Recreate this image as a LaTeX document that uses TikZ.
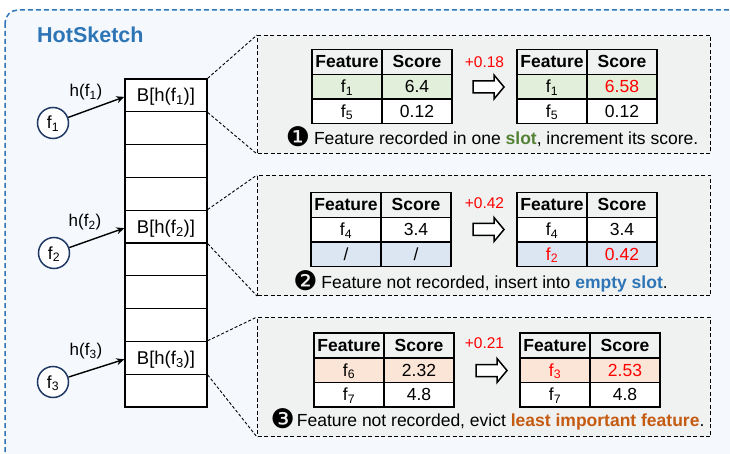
\documentclass[tikz,border=0pt]{standalone}
\usepackage{fontspec}
\setmainfont{Liberation Sans}
\newfontfamily\djv{DejaVu Sans}
\usetikzlibrary{calc,arrows.meta}
\definecolor{hsblue}{HTML}{2E75B6}
\definecolor{outerfill}{HTML}{F5F9FD}
\definecolor{panelfill}{HTML}{F0F1F1}
\definecolor{navy}{HTML}{1F3864}
\definecolor{rowgreen}{HTML}{E2EFDA}
\definecolor{rowblue}{HTML}{DCE6F2}
\definecolor{roworange}{HTML}{FBE5D6}
\definecolor{slotgreen}{HTML}{548235}
\definecolor{evictorange}{HTML}{C55A11}
\definecolor{incred}{HTML}{FF0000}
\newcommand\ftab[9]{%
  \begin{scope}[shift={(#2,#3)}]
    \fill[#4] (0,25) rectangle (140,49.5);
    \fill[#7] (0,49.5) rectangle (140,74);
    \draw[tabline] (0,0) rectangle (140,74);
    \draw[tabline] (0,25) -- (140,25) (0,49.5) -- (140,49.5) (70,0) -- (70,74);
    \node[cell] (#1h1) at (35,12.5) {\bfseries Feature};
    \node[cell] (#1h2) at (105,12.5) {\bfseries Score};
    \node[cell] (#1a) at (35,37.25) {#5};
    \node[cell] (#1b) at (105,37.25) {#6};
    \node[cell] (#1c) at (35,61.75) {#8};
    \node[cell] (#1d) at (105,61.75) {#9};
  \end{scope}}
\newcommand\hollowarrow[3]{%
  \draw[line width=1.5pt,fill=white,line join=miter] (#2,#3)
    ++(0,-6) -- ++(21,0) -- ++(0,-6) -- ++(10,12) -- ++(-10,12) -- ++(0,-6) -- ++(-21,0) -- cycle;
  \coordinate (#1) at (#2+15,#3);}
\newcommand\cnum[1]{{\djv\fontsize{27}{20}\selectfont\raisebox{-2.5pt}{#1}}}
\begin{document}
\begin{tikzpicture}[x=1pt,y=-1pt,
  bucket/.style={draw=black,line width=1.3pt,fill=white,minimum width=82pt,minimum height=32.8pt,inner sep=0pt,text height=13pt,text depth=0pt,font=\fontsize{18.5}{20}\selectfont},
  feat/.style={circle,draw=navy,line width=1.5pt,fill=white,minimum size=31pt,inner sep=0pt,text height=12pt,text depth=0pt,font=\fontsize{17.5}{20}\selectfont},
  hlab/.style={inner sep=0pt,text height=11.5pt,text depth=0pt,font=\fontsize{17}{18}\selectfont},
  harrow/.style={line width=1.4pt,-{Stealth[length=8pt,width=7pt]}},
  conn/.style={line width=0.9pt,dash pattern=on 3pt off 2pt},
  panel/.style={draw=black,fill=panelfill,line width=1pt,dash pattern=on 4pt off 2.5pt,inner sep=0pt,anchor=north west},
  tabline/.style={line width=1.7pt,draw=black},
  cell/.style={inner sep=0pt,text height=12pt,text depth=0pt,font=\fontsize{17.5}{20}\selectfont},
  inc/.style={inner sep=0pt,text=incred,font=\fontsize{15.5}{18}\selectfont},
  capline/.style={inner sep=0pt,text height=12.5pt,text depth=0pt,font=\fontsize{17.5}{20}\selectfont}
]
\clip (0,0) rectangle (730,454);
\useasboundingbox (0,0) rectangle (730,454);
\fill[white] (0,0) rectangle (730,454);
\draw[draw=hsblue,fill=outerfill,line width=1.5pt,dash pattern=on 5pt off 3pt,rounded corners=13pt] (5,10) rectangle (760,480);
\node[inner sep=0pt,anchor=west,text=hsblue,font=\fontsize{21.5}{24}\selectfont\bfseries] (title) at (37,34.5) {HotSketch};

% buckets
\node[bucket] (b0) at (166,95.4) {B[h(f\textsubscript{1})]};
\foreach \i in {1,2,3} {\node[bucket] (b\i) at (166,95.4+32.8*\i) {};}
\node[bucket] (b4) at (166,95.4+32.8*4) {B[h(f\textsubscript{2})]};
\foreach \i in {5,6,7} {\node[bucket] (b\i) at (166,95.4+32.8*\i) {};}
\node[bucket] (b8) at (166,95.4+32.8*8) {B[h(f\textsubscript{3})]};
\node[bucket] (b9) at (166,95.4+32.8*9) {};

% features
\node[feat] (c1) at (53,123) {f\textsubscript{1}};
\node[feat] (c2) at (54,253) {f\textsubscript{2}};
\node[feat] (c3) at (53,382) {f\textsubscript{3}};
\draw[harrow] (c1) -- ($(b0.west)+(0,1.5)$);
\draw[harrow] (c2) -- ($(b4.west)+(0,1.5)$);
\draw[harrow] (c3) -- ($(b8.west)+(0,1.5)$);
\node[hlab] (h1) at (86,91) {h(f\textsubscript{1})};
\node[hlab] (h2) at (85,221) {h(f\textsubscript{2})};
\node[hlab] (h3) at (86,350) {h(f\textsubscript{3})};

% panels
\node[panel,minimum width=453pt,minimum height=118pt] (p1) at (257,35) {};
\node[panel,minimum width=453pt,minimum height=120pt] (p2) at (257,175) {};
\node[panel,minimum width=453pt,minimum height=119pt] (p3) at (257,317) {};
\draw[conn] (b0.north east) -- (p1.north west);
\draw[conn] (b0.south east) -- (p1.south west);
\draw[conn] (b4.north east) -- (p2.north west);
\draw[conn] (b4.south east) -- (p2.south west);
\draw[conn] (b8.north east) -- (p3.north west);
\draw[conn] (b8.south east) -- (p3.south west);

% panel 1
\ftab{t1l}{312}{49.5}{rowgreen}{f\textsubscript{1}}{6.4}{white}{f\textsubscript{5}}{0.12}
\ftab{t1r}{517}{49.5}{rowgreen}{f\textsubscript{1}}{\textcolor{incred}{6.58}}{white}{f\textsubscript{5}}{0.12}
\hollowarrow{a1}{473}{87}
\node[inc] (i1) at (484.5,62) {+0.18};
\node[capline] (cap1) at (492,138) {\cnum{❶}\hspace{4pt}Feature recorded in one {\bfseries\color{slotgreen}slot}, increment its score.};

% panel 2
\ftab{t2l}{311}{192.5}{white}{f\textsubscript{4}}{3.4}{rowblue}{/}{/}
\ftab{t2r}{517}{192.5}{white}{f\textsubscript{4}}{3.4}{rowblue}{\textcolor{incred}{f\textsubscript{2}}}{\textcolor{incred}{0.42}}
\hollowarrow{a2}{473}{229.5}
\node[inc] (i2) at (484.5,203) {+0.42};
\node[capline] (cap2) at (480.5,282) {\cnum{❷}\hspace{4pt}Feature not recorded, insert into {\bfseries\color{hsblue}empty slot}.};

% panel 3
\ftab{t3l}{314}{333}{roworange}{f\textsubscript{6}}{2.32}{white}{f\textsubscript{7}}{4.8}
\ftab{t3r}{520}{333}{roworange}{\textcolor{incred}{f\textsubscript{3}}}{\textcolor{incred}{2.53}}{white}{f\textsubscript{7}}{4.8}
\hollowarrow{a3}{476}{370.5}
\node[inc] (i3) at (484.5,343) {+0.21};
\node[capline] (cap3) at (487.5,420) {\cnum{❸}\hspace{2pt}Feature not recorded, evict {\bfseries\color{evictorange}least important feature}.};
\end{tikzpicture}
\end{document}
